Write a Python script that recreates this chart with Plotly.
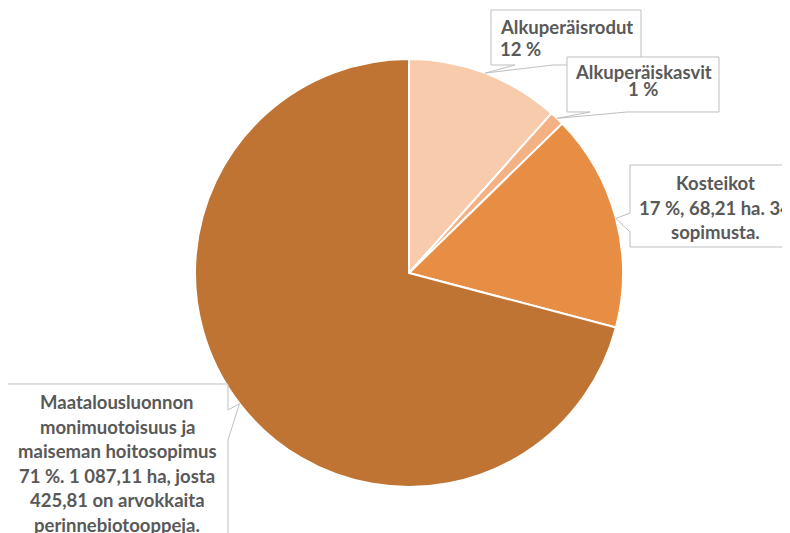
import math
import plotly.graph_objects as go

# ---- data ----
labels = ["Alkuperäisrodut", "Alkuperäiskasvit", "Kosteikot",
          "Maatalousluonnon monimuotoisuus ja maiseman hoitosopimus"]
values = [11.6, 1.1, 16.4, 70.9]
colors = ["#F8CBAD", "#F4B183", "#E88E44", "#C07433"]
label_lines = [
    ["Alkuperäisrodut", "12 %"],
    ["Alkuperäiskasvit", "1 %"],
    ["Kosteikot", "17 %, 68,21 ha. 34", "sopimusta."],
    ["Maatalousluonnon", "monimuotoisuus ja", "maiseman hoitosopimus",
     "71 %. 1 087,11 ha, josta", "425,81 on arvokkaita", "perinnebiotooppeja."],
]

# ---- layout (pixels, as seen in the window) ----
W, H = 790, 533
OFF = 8  # page body margin
CX, CY, R = 409, 273, 214
FONT = "Lato"
FSIZE = 18.5
TXT = "#595959"
BORDER = "#BFBFBF"

# callout boxes: (x0, y0, x1, y1, side, base_a, base_b, text_anchor, text_x, first_line_y, line_step)
boxes = [
    (491, 10, 641, 65, "bottom", 515, 553, "left", 498, 27, 21.5),
    (567, 57, 719, 112, "bottom", 590, 627, "center", 643, 72, 17.5),
    (630, 165, 800, 247, "left", 213, 232, "center", 715, 183, 24.5),
    (7, 384, 228, 560, "right", 410, 440, "center", 117.5, 402, 24.5),
]


def px(x):
    return (x - OFF) / W


def py(y):
    return 1 - (y - OFF) / H


fig = go.Figure(go.Pie(
    labels=labels, values=values, sort=False, direction="clockwise",
    rotation=0, textinfo="none", hoverinfo="label+percent",
    marker=dict(colors=colors, line=dict(color="white", width=2)),
    domain=dict(x=[px(CX - R), px(CX + R)], y=[py(CY + R), py(CY - R)]),
    showlegend=False,
))

total = sum(values)
cum = 0.0
shapes = []
annotations = []
for v, lines, b in zip(values, label_lines, boxes):
    th = 2 * math.pi * (cum + v / 2) / total
    cum += v
    tx, ty = CX + R * math.sin(th), CY - R * math.cos(th)
    x0, y0, x1, y1, side, ba, bb, anc, txx, ly, step = b
    if side == "bottom":
        pts = [(x0, y0), (x1, y0), (x1, y1), (bb, y1), (tx, ty), (ba, y1), (x0, y1)]
    elif side == "left":
        pts = [(x0, y0), (x1, y0), (x1, y1), (x0, y1), (x0, bb), (tx, ty), (x0, ba)]
    else:  # right
        pts = [(x0, y0), (x1, y0), (x1, ba), (tx, ty), (x1, bb), (x1, y1), (x0, y1)]
    path = "M " + " L ".join(f"{px(a):.5f},{py(c):.5f}" for a, c in pts) + " Z"
    shapes.append(dict(type="path", path=path, xref="paper", yref="paper",
                       fillcolor="white", line=dict(color=BORDER, width=1),
                       layer="above"))
    for i, t in enumerate(lines):
        annotations.append(dict(
            text=t, x=px(txx), y=py(ly + i * step), xref="paper", yref="paper",
            xanchor=anc, yanchor="middle", showarrow=False,
            font=dict(family=FONT, size=FSIZE, color=TXT, weight="bold"),
        ))

fig.update_layout(
    width=W, height=H, margin=dict(l=0, r=0, t=0, b=0),
    paper_bgcolor="white", plot_bgcolor="white",
    shapes=shapes, annotations=annotations,
)

fig.write_html("out.html")
